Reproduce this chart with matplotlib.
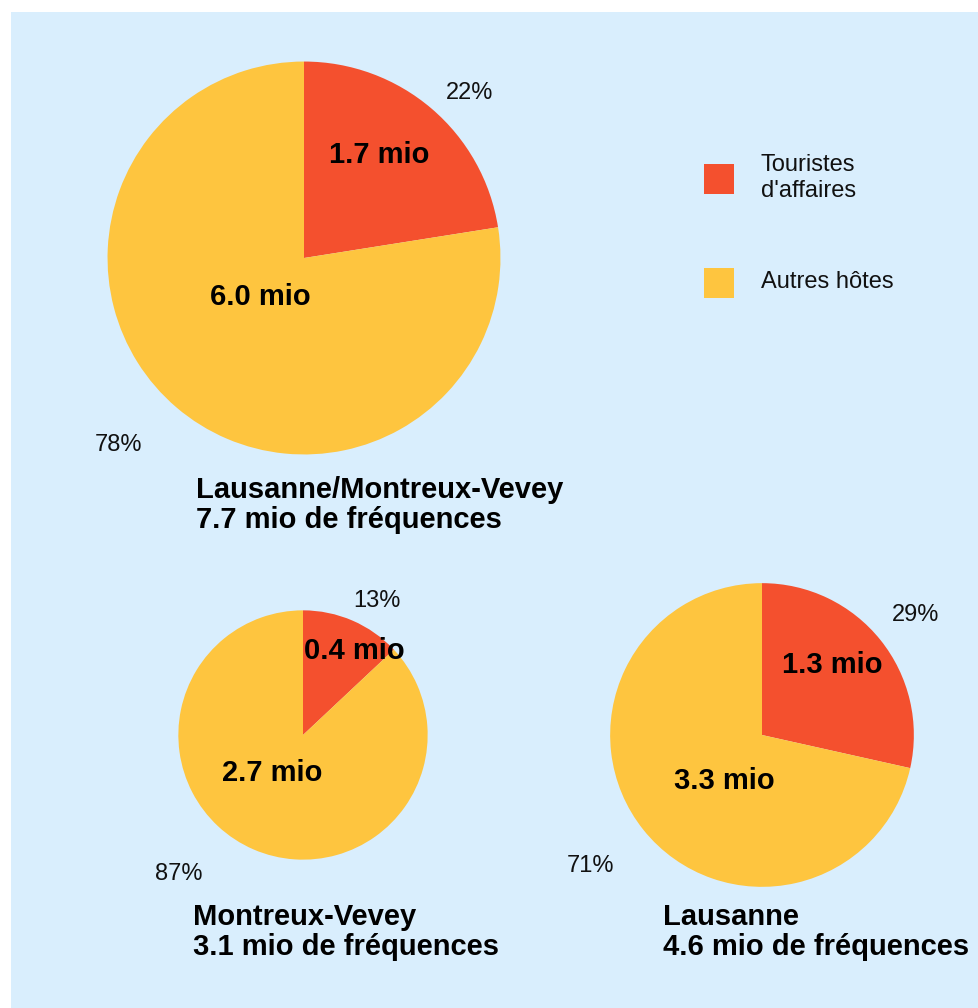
import numpy as np
import matplotlib
matplotlib.use('Agg')
import matplotlib.pyplot as plt
from matplotlib.patches import Rectangle

plt.rcParams['font.family'] = ['Liberation Sans', 'DejaVu Sans']

# ==============================
# Data
# ==============================
regions = ['Lausanne/Montreux-Vevey', 'Montreux-Vevey', 'Lausanne']
totals = [7.7, 3.1, 4.6]              # mio de fréquences
business_mio = [1.7, 0.4, 1.3]
other_mio = [6.0, 2.7, 3.3]
business_pct = [22, 13, 29]           # printed labels
other_pct = [78, 87, 71]
business_share = [22.5, 13.0, 28.5]   # wedge sizes as drawn
legend_labels = ["Touristes\nd'affaires", 'Autres hôtes']

RED = '#F4502E'
YELLOW = '#FEC53F'
BG = '#D9EEFD'

# ==============================
# Layout (pixel space, y up)
# ==============================
W, H = 979, 1008
centers = [(304, 750), (303, 273), (762, 273)]
scale = 70.8                          # radius = scale * sqrt(total)
title_pos = [(196, 532), (193, 105), (663, 105)]
# (angle deg, radius factor) for: business %, other %, business mio, other mio
label_layout = [
    [(45, 1.19), (-134.7, 1.34), (54, 0.65), (-138, 0.30)],
    [(61, 1.23), (-131.8, 1.50), (58.7, 0.79), (-129, 0.39)],
    [(38, 1.28), (-142.7, 1.42), (45, 0.65), (-129, 0.39)],
]

fig = plt.figure(figsize=(W / 100, H / 100), dpi=100)
fig.patch.set_facecolor('white')
ax = fig.add_axes([0, 0, 1, 1])
ax.set_xlim(0, W)
ax.set_ylim(0, H)
ax.set_aspect('equal')
ax.axis('off')

ax.add_patch(Rectangle((11, 0), W - 11, H - 12, facecolor=BG, edgecolor='none', zorder=0))

for i in range(len(regions)):
    r = scale * np.sqrt(totals[i])
    ax.pie([business_share[i], 100 - business_share[i]], colors=[RED, YELLOW], startangle=90,
           counterclock=False, center=centers[i], radius=r, frame=True,
           wedgeprops=dict(linewidth=0))
    cx, cy = centers[i]
    texts = [f'{business_pct[i]}%', f'{other_pct[i]}%',
             f'{business_mio[i]:.1f} mio', f'{other_mio[i]:.1f} mio']
    for j, (txt, (ang, k)) in enumerate(zip(texts, label_layout[i])):
        x = cx + r * k * np.cos(np.radians(ang))
        y = cy + r * k * np.sin(np.radians(ang))
        if j < 2:
            ax.text(x, y, txt, ha='center', va='center', fontsize=17, color='#111111')
        else:
            ax.text(x, y, txt, ha='center', va='center', fontsize=21,
                    fontweight='bold', color='black')
    tx, ty = title_pos[i]
    ax.text(tx, ty, f'{regions[i]}\n{totals[i]:.1f} mio de fréquences', ha='left',
            va='top', fontsize=21, fontweight='bold', linespacing=1.1, color='black')

# re-apply limits after pie() changes them
ax.set_xlim(0, W)
ax.set_ylim(0, H)
ax.axis('off')

# Legend
for lbl, col, ly in zip(legend_labels, [RED, YELLOW], [829, 725]):
    ax.add_patch(Rectangle((704, ly - 15), 30, 30, facecolor=col, edgecolor='none'))
    ax.text(761, ly + 1, lbl, ha='left', va='center', fontsize=17, linespacing=1.2,
            color='#111111')

fig.savefig('out.png', dpi=100, facecolor='white')
